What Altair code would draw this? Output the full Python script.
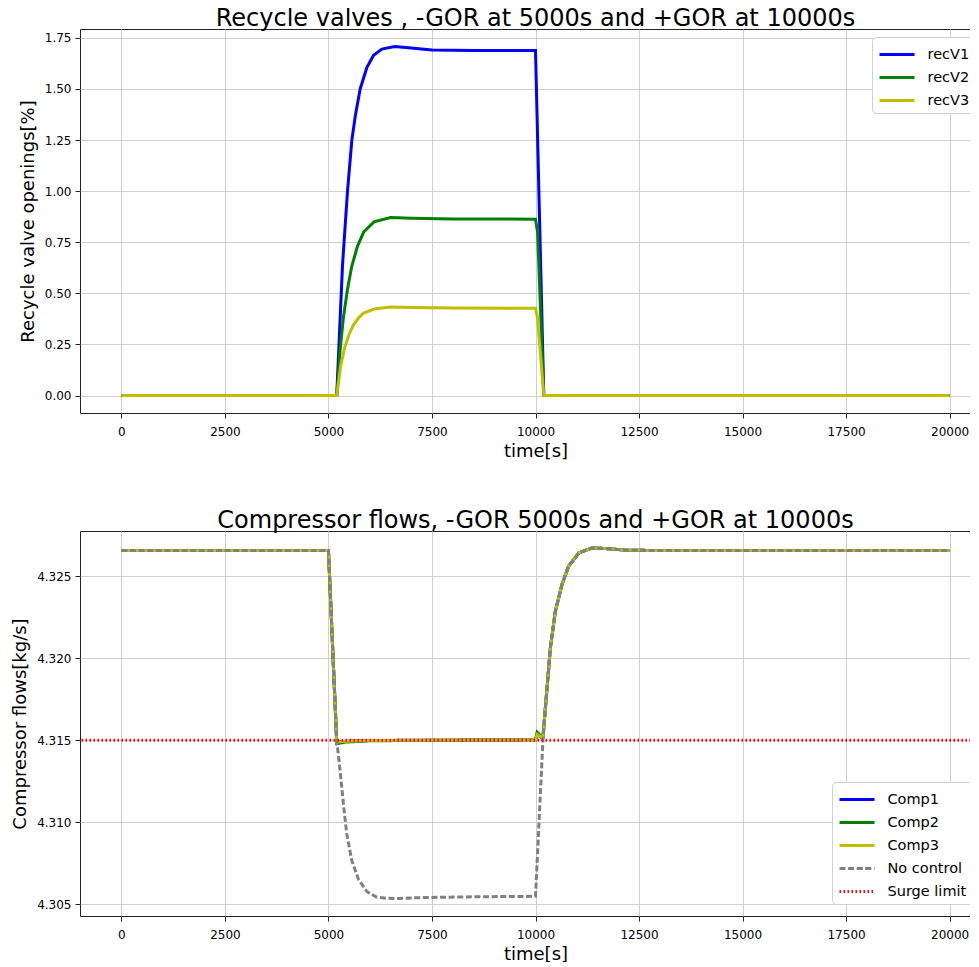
import altair as alt
import pandas as pd

FONT = "DejaVu Sans"

# ---------------- top panel data (recycle valve openings) ----------------
rec_names = ["recV1", "recV2", "recV3"]
rec_colors = ["#0000ff", "#008000", "#bfbf00"]

t_rec1 = [0, 5000, 5200, 5270, 5340, 5460, 5565, 5650, 5766, 5927, 6089, 6290, 6600, 7000, 7500, 8500, 10000, 10200, 20000]
v_rec1 = [0, 0, 0, 0.32, 0.64, 1.00, 1.25, 1.37, 1.50, 1.605, 1.665, 1.695, 1.708, 1.700, 1.691, 1.688, 1.688, 0, 0]

t_rec2 = [0, 5000, 5200, 5280, 5360, 5460, 5560, 5700, 5850, 6100, 6500, 7000, 8000, 10000, 10050, 10200, 20000]
v_rec2 = [0, 0, 0, 0.22, 0.38, 0.52, 0.63, 0.73, 0.80, 0.85, 0.871, 0.868, 0.864, 0.863, 0.80, 0, 0]

t_rec3 = [0, 5000, 5200, 5300, 5400, 5500, 5600, 5750, 5850, 6100, 6500, 7000, 8000, 10000, 10050, 10200, 20000]
v_rec3 = [0, 0, 0, 0.15, 0.24, 0.30, 0.345, 0.385, 0.403, 0.423, 0.433, 0.431, 0.428, 0.427, 0.38, 0, 0]

# ---------------- bottom panel data (compressor flows) ----------------
flow_names = ["Comp1", "Comp2", "Comp3", "No control", "Surge limit"]
flow_colors = ["#0000ff", "#008000", "#bfbf00", "#808080", "#ff0000"]

t_comp = [0, 5000, 5200, 5400, 6000, 8000, 10000, 10040, 10150, 10180, 10280, 10360, 10480, 10640, 10800, 11050, 11370, 11700, 12200, 13000, 20000]
v_comp1 = [4.32656, 4.32656, 4.31488, 4.31493, 4.31498, 4.31500, 4.31502, 4.31535, 4.31515, 4.31520, 4.31822, 4.32065, 4.32287, 4.32449, 4.32561, 4.32642, 4.32672, 4.32668, 4.32658, 4.32656, 4.32656]
v_comp2 = [4.32656, 4.32656, 4.31478, 4.31488, 4.31496, 4.31500, 4.31502, 4.31548, 4.31520, 4.31520, 4.31822, 4.32065, 4.32287, 4.32449, 4.32561, 4.32642, 4.32672, 4.32668, 4.32658, 4.32656, 4.32656]
v_comp3 = [4.32656, 4.32656, 4.31488, 4.31493, 4.31498, 4.31500, 4.31502, 4.31535, 4.31515, 4.31520, 4.31822, 4.32065, 4.32287, 4.32449, 4.32561, 4.32642, 4.32672, 4.32668, 4.32658, 4.32656, 4.32656]

t_noctl = [0, 5000, 5200, 5280, 5360, 5440, 5560, 5730, 5930, 6170, 6410, 6700, 7200, 8500, 10000, 10180, 10280, 10360, 10480, 10640, 10800, 11050, 11370, 11700, 12200, 13000, 20000]
v_noctl = [4.32656, 4.32656, 4.31500, 4.31316, 4.31113, 4.30931, 4.30769, 4.30648, 4.30577, 4.30542, 4.30536, 4.30535, 4.30540, 4.30545, 4.30548, 4.31500, 4.31822, 4.32065, 4.32287, 4.32449, 4.32561, 4.32642, 4.32672, 4.32668, 4.32658, 4.32656, 4.32656]

surge_level = 4.315

x_ticks = [0, 2500, 5000, 7500, 10000, 12500, 15000, 17500, 20000]
y_ticks_top = [0.0, 0.25, 0.5, 0.75, 1.0, 1.25, 1.5, 1.75]
y_ticks_bot = [4.305, 4.310, 4.315, 4.320, 4.325]

# ---------------- build tables ----------------
top_df = pd.concat([
    pd.DataFrame({"t": t_rec1, "v": v_rec1, "series": "recV1"}),
    pd.DataFrame({"t": t_rec2, "v": v_rec2, "series": "recV2"}),
    pd.DataFrame({"t": t_rec3, "v": v_rec3, "series": "recV3"}),
], ignore_index=True)

comp_df = pd.concat([
    pd.DataFrame({"t": t_comp, "v": v_comp1, "series": "Comp1"}),
    pd.DataFrame({"t": t_comp, "v": v_comp2, "series": "Comp2"}),
    pd.DataFrame({"t": t_comp, "v": v_comp3, "series": "Comp3"}),
], ignore_index=True)
noctl_df = pd.DataFrame({"t": t_noctl, "v": v_noctl, "series": "No control"})
surge_df = pd.DataFrame({"v": [surge_level], "series": ["Surge limit"]})

W = 911

x_scale = alt.Scale(domain=[-1000, 21000], nice=False, zero=False)
x_enc = alt.X("t:Q", scale=x_scale,
              axis=alt.Axis(title="time[s]", values=x_ticks, format="d"))

legend_common = dict(
    title=None, symbolType="M-1.75,0H1.75", symbolSize=400, symbolOffset=7.5,
    labelFontSize=14.5, labelFont=FONT, labelColor="black", padding=6, rowPadding=5,
    strokeColor="#d0d0d0", cornerRadius=4, fillColor="white",
    labelOffset=19, labelLimit=300,
)

# ---------------- top chart ----------------
top = alt.Chart(top_df).mark_line(strokeWidth=3, clip=True).encode(
    x=x_enc,
    y=alt.Y("v:Q", scale=alt.Scale(domain=[-0.0855, 1.7935], nice=False, zero=False),
            axis=alt.Axis(title="Recycle valve openings[%]", values=y_ticks_top, format=".2f")),
    color=alt.Color("series:N", scale=alt.Scale(domain=rec_names, range=rec_colors),
                    legend=alt.Legend(orient="none", legendX=792, legendY=8,
                                      symbolStrokeWidth=3, **legend_common)),
).properties(
    width=W, height=384,
    title=alt.Title("Recycle valves , -GOR at 5000s and +GOR at 10000s"),
)

# ---------------- bottom chart ----------------
y_bot = alt.Y("v:Q", scale=alt.Scale(domain=[4.30428, 4.32775], nice=False, zero=False),
              axis=alt.Axis(title="Compressor flows[kg/s]", values=y_ticks_bot, format=".3f"))
bot_legend = alt.Legend(orient="none", legendX=752, legendY=251, **legend_common)
color_bot = alt.Color("series:N", scale=alt.Scale(domain=flow_names, range=flow_colors), legend=bot_legend)
dash_bot = alt.StrokeDash("series:N", scale=alt.Scale(domain=flow_names,
                          range=[[1, 0], [1, 0], [1, 0], [6, 2.6], [1.5, 2.5]]), legend=bot_legend)
width_bot = alt.StrokeWidth("series:N", scale=alt.Scale(domain=flow_names, range=[3, 3, 3, 1.6, 1.5]),
                            legend=bot_legend)

comp_layer = alt.Chart(comp_df).mark_line(clip=True).encode(
    x=x_enc, y=y_bot, color=color_bot, strokeDash=dash_bot, strokeWidth=width_bot)
noctl_layer = alt.Chart(noctl_df).mark_line(clip=True).encode(
    x=x_enc, y=y_bot, color=color_bot, strokeDash=dash_bot, strokeWidth=width_bot)
surge_layer = alt.Chart(surge_df).mark_rule().encode(
    y=y_bot, color=color_bot, strokeDash=dash_bot, strokeWidth=width_bot)

bottom = alt.layer(comp_layer, noctl_layer, surge_layer).properties(
    width=W, height=385,
    title=alt.Title("Compressor flows, -GOR 5000s and +GOR at 10000s"),
)

chart = alt.vconcat(top, bottom, spacing=47).resolve_scale(
    color="independent", strokeDash="independent", strokeWidth="independent",
).resolve_legend(
    color="independent", strokeDash="independent", strokeWidth="independent",
).configure(
    padding={"left": 3, "top": -2, "right": -23, "bottom": -2},
    font=FONT,
).configure_view(
    stroke="#222222", strokeWidth=1,
).configure_axis(
    labelFont=FONT, titleFont=FONT, labelFontSize=12, titleFontSize=18,
    labelColor="black", titleColor="black", titleFontWeight="normal",
    grid=True, gridColor="#cfcfcf", gridWidth=1,
    domain=False, tickColor="#222222", tickSize=5, tickWidth=1,
    labelPadding=8,
).configure_axisX(
    titlePadding=5,
).configure_axisY(
    titlePadding=7, labelPadding=4,
).configure_title(
    font=FONT, fontSize=24, fontWeight="normal", color="black", anchor="middle", offset=-2,
)

chart.save("out.html", embed_options={"renderer": "svg", "actions": False})
